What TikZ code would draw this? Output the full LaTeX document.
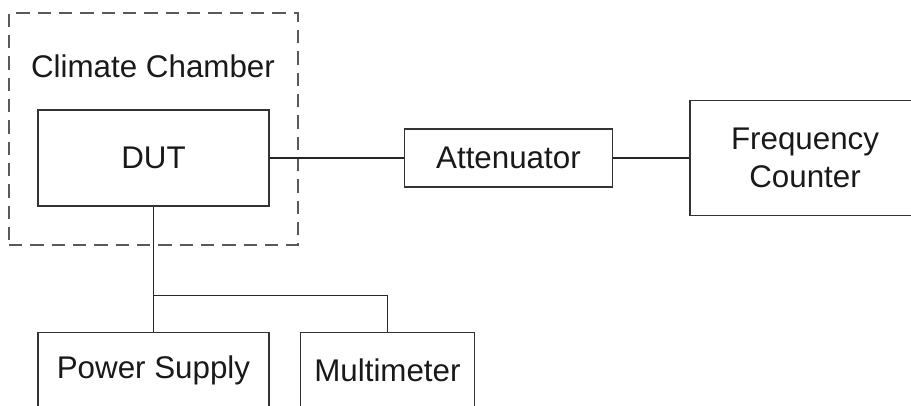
\documentclass[tikz,border=0pt]{standalone}
\usepackage{fontspec}
\setmainfont{Liberation Sans}
\usetikzlibrary{positioning}

\begin{document}
\begin{tikzpicture}[x=0.75pt, y=-0.75pt,
	style={align=center, font=\fontsize{23.5}{28}\selectfont, text=black!90},
	box/.style={draw=black!80, line width=1.2pt, inner sep=0pt},
	wire/.style={draw=black!85, line width=0.8pt},
	chamber/.style={draw=black!65, line width=1.6pt, dash pattern=on 10pt off 6pt}]
		\useasboundingbox (0,0) rectangle (911,406);
		
		\node[chamber, minimum width=216.75pt, minimum height=174pt] (CC) at (153.5,129) {};
		\node (CCL) at (153,66) {Climate Chamber};
		\node[box, minimum width=173pt, minimum height=72pt] (DUT) at (153.5,158) {DUT};
		\node[box, minimum width=156pt, minimum height=43.5pt, right=100.5pt of DUT] (ATT) {Attenuator};
		\node[box, minimum width=172.5pt, minimum height=86pt, right=57pt of ATT] (FC) {Frequency\\Counter};
		\node[box, minimum width=173pt, minimum height=57pt, below=93.75pt of DUT] (PS) {Power Supply};
		\node[box, minimum width=130.5pt, minimum height=57pt, right=22.5pt of PS] (MM) {Multimeter};
		\coordinate[above=27pt of PS.north] (split);
		\draw[wire] (DUT) -- (ATT);
		\draw[wire] (ATT) -- (FC);
		\draw[wire] (DUT) -- (PS);
		\draw[wire] (split) -| (MM.north);
		\end{tikzpicture}
\end{document}
